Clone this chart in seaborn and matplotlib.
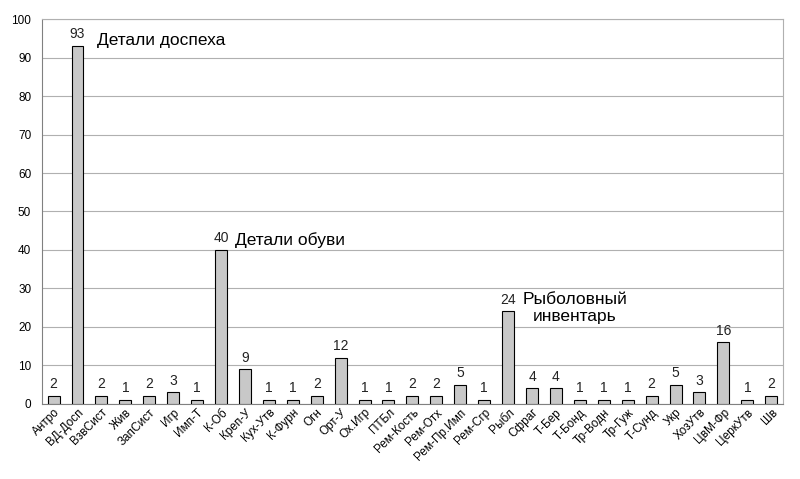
import pandas as pd
import matplotlib.pyplot as plt
import seaborn as sns

categories = ["Антро", "ВД-Досп", "ВзвСист", "Жив", "ЗапСист", "Игр", "Имп-Т", "К-Об",
              "Креп-У", "Кух-Утв", "К-Фурн", "Огн", "Орт-У", "Ох.Игр", "ПТБл",
              "Рем-Кость", "Рем-Отх", "Рем-Пр.Имп", "Рем-Сгр", "Рыбл", "Сфраг",
              "Т-Бер", "Т-Бонд", "Тр-Водн", "Тр-Гуж", "Т-Сунд", "Укр", "ХозУтв",
              "ЦвМ-Фр", "ЦеркУтв", "Шв"]
counts = [2, 93, 2, 1, 2, 3, 1, 40, 9, 1, 1, 2, 12, 1, 1, 2, 2, 5, 1, 24, 4,
          4, 1, 1, 1, 2, 5, 3, 16, 1, 2]

df = pd.DataFrame({"cat": categories, "n": counts})

sns.set_style("white")
plt.rcParams['font.family'] = ['Liberation Sans', 'DejaVu Sans']

fig = plt.figure(figsize=(8, 4.79), dpi=100)
ax = fig.add_axes([0.052, 0.157, 0.927, 0.803])

sns.barplot(data=df, x="cat", y="n", ax=ax, color="#c8c8c8", saturation=1,
            width=0.5, edgecolor="black", linewidth=0.8, zorder=3)

ax.set_ylim(0, 100)
ax.set_xlim(-0.5, len(categories) - 0.5)
ax.set_yticks(range(0, 101, 10))
ax.yaxis.grid(True, color="#b0b0b0", linewidth=0.8, zorder=0)
ax.set_axisbelow(True)
for s in ["top", "right"]:
    ax.spines[s].set_color("#b0b0b0")
ax.spines["left"].set_color("#808080")
ax.spines["bottom"].set_color("#808080")
ax.set_xlabel("")
ax.set_ylabel("")

# ticks between categories
ax.set_xticks([i + 0.5 for i in range(-1, len(categories))], minor=True)
ax.tick_params(axis="x", which="minor", length=4, color="#808080")
ax.tick_params(axis="x", which="major", length=0, pad=2)
ax.tick_params(axis="y", length=4, color="#808080", labelsize=8.5, labelcolor="black")
ax.set_xticks(range(len(categories)))
ax.set_xticklabels(categories, rotation=45, ha="right", rotation_mode="anchor",
                   fontsize=8.5, color="black")

for i, v in enumerate(counts):
    ax.text(i, v + 1.2, str(v), ha="center", va="bottom", fontsize=10, color="#222222")

ax.text(1.8, 94.5, "Детали доспеха", fontsize=12.5, va="center", color="black")
ax.text(7.6, 42.6, "Детали обуви", fontsize=12.5, va="center", color="black")
ax.text(21.8, 24.9, "Рыболовный\nинвентарь", fontsize=12.5, va="center", ha="center",
        linespacing=1.1, color="black")

fig.savefig("out.png", dpi=100)
